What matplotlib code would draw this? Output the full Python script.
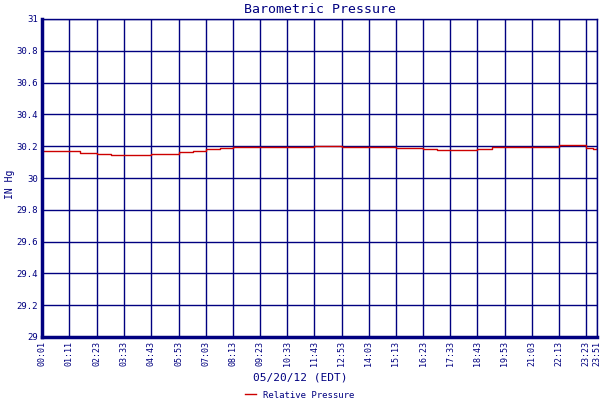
import matplotlib
matplotlib.use("Agg")
import matplotlib.pyplot as plt

tick_labels = ["00:01","01:11","02:23","03:33","04:43","05:53","07:03","08:13","09:23","10:33",
               "11:43","12:53","14:03","15:13","16:23","17:33","18:43","19:53","21:03","22:13","23:23","23:51"]
tick_minutes = [1,71,143,213,283,353,423,493,563,633,703,773,843,913,983,1053,1123,1193,1263,1333,1403,1431]
pressure_times = [1,30,71,100,143,180,213,250,283,320,353,390,423,460,493,530,563,600,633,670,703,740,773,810,
                  843,880,913,950,983,1020,1053,1090,1123,1160,1193,1230,1263,1300,1333,1370,1403,1420,1431]
pressure = [30.17,30.172,30.168,30.158,30.152,30.146,30.145,30.142,30.148,30.152,30.162,30.17,30.18,30.188,30.193,
            30.195,30.195,30.196,30.196,30.198,30.203,30.201,30.196,30.194,30.192,30.192,30.191,30.19,30.182,30.178,
            30.176,30.175,30.185,30.194,30.195,30.195,30.196,30.197,30.206,30.206,30.19,30.182,30.188]

navy = "#000080"
fig = plt.figure(figsize=(6,4), dpi=100)
ax = fig.add_axes([42/600, 1-337/400, 555/600, 318/400])
ax.step(pressure_times, pressure, where="post", color="#cc0000", lw=1.0, label="Relative Pressure")
ax.set_xlim(1, 1431)
ax.set_ylim(29, 31)
ax.set_xticks(tick_minutes)
ax.set_xticklabels(tick_labels, rotation=90, fontsize=6, family="DejaVu Sans Mono", color=navy)
yt = [29,29.2,29.4,29.6,29.8,30,30.2,30.4,30.6,30.8,31]
ax.set_yticks(yt)
ax.set_yticklabels(["29","29.2","29.4","29.6","29.8","30","30.2","30.4","30.6","30.8","31"],
                   fontsize=6.5, family="DejaVu Sans Mono", color=navy)
ax.grid(True, color=navy, lw=1)
ax.tick_params(length=0, pad=3)
for s in ax.spines.values():
    s.set_color(navy); s.set_linewidth(1)
ax.spines["left"].set_linewidth(2.5); ax.spines["bottom"].set_linewidth(2.5)
ax.set_title("Barometric Pressure", fontsize=9.5, family="DejaVu Sans Mono", color=navy, pad=4)
fig.text(10/600, 1-184/400, "IN Hg", rotation=90, ha="center", va="center", fontsize=7,
         family="DejaVu Sans Mono", color=navy)
fig.text(0.5, 1-378/400, "05/20/12 (EDT)", ha="center", va="center", fontsize=8, family="DejaVu Sans Mono", color=navy)
fig.legend(loc="center", bbox_to_anchor=(0.5, 1-395/400), frameon=False,
           prop={"family":"DejaVu Sans Mono","size":6.5}, handlelength=1.2, labelcolor=navy)
fig.savefig("out.png", dpi=100)
